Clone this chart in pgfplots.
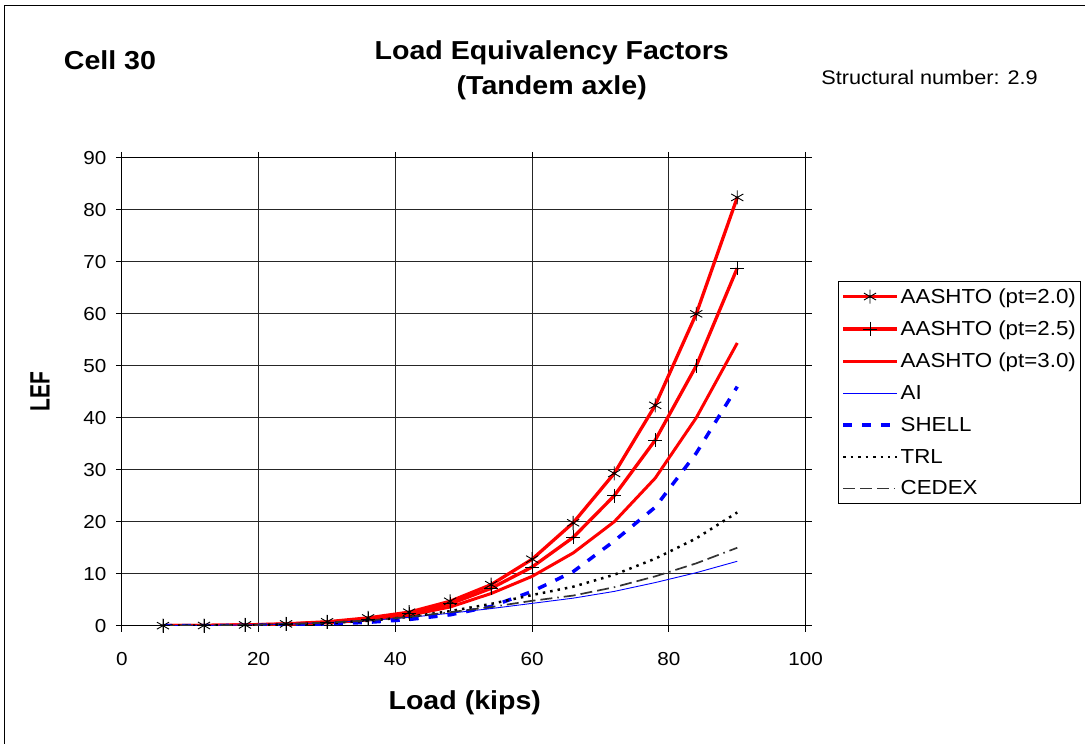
\documentclass[border=0pt]{standalone}
\usepackage{pgfplots}
\usepackage{pgfplotstable}
\pgfplotsset{compat=1.18}
\usepackage{fontspec}
\setmainfont{Liberation Sans}[FakeStretch=1.1]
\newfontfamily\plainfont{Liberation Sans}

\pgfplotstableread{
x    a20   a25   a30   ai    shell  trl   cedex
6    0.01  0.01  0.01  0.01  0.003  0.005 0.01
12   0.04  0.04  0.03  0.05  0.02   0.03  0.05
18   0.15  0.14  0.10  0.15  0.06   0.10  0.15
24   0.35  0.30  0.25  0.30  0.15   0.25  0.30
30   0.75  0.65  0.55  0.60  0.33   0.50  0.60
36   1.5   1.3   1.1   1.0   0.65   0.95  1.0
42   2.6   2.3   2.0   1.6   1.2    1.7   1.7
48   4.7   4.2   3.6   2.4   2.1    2.8   2.6
54   7.9   7.2   6.2   3.3   3.7    4.2   3.6
60   12.8  11.3  9.5   4.3   6.6    5.9   4.8
66   19.8  17.0  14.0  5.3   10.4   7.5   5.8
72   29.3  25.0  20.0  6.6   16.3   9.8   7.4
78   42.4  35.7  28.4  8.3   22.8   12.9  9.5
84   60.0  50.0  40.0  10.2  33.2   16.8  12.0
90   82.4  68.8  54.4  12.4  46.0   21.8  15.0
}\lef

\begin{document}
\begin{tikzpicture}[x=1pt,y=1pt]
\path (0,0) rectangle (1085,744);
\draw[line width=1pt] (5,0) -- (5,738) -- (1085,738);
\begin{axis}[
  at={(122pt,118pt)}, anchor=south west,
  width=684pt, height=468pt, scale only axis,
  xmin=0, xmax=100, ymin=0, ymax=90,
  xtick={0,20,...,100}, ytick={0,10,...,90},
  grid=major, major grid style={black!85, line width=1pt},
  axis line style={black, line width=1pt},
  tick style={black, line width=0.9pt},
  tick align=outside, major tick length=6pt,
  tick label style={font=\fontsize{18.8}{22}\selectfont},
  /pgf/number format/assume math mode=true,
  xticklabel style={yshift=-17pt},
  yticklabel style={xshift=-6pt},
  legend style={at={(axis description cs:1.047,0.737)}, anchor=north west,
    draw=black, line width=1pt, font=\fontsize{20.3}{23}\selectfont,
    row sep=12.2pt, inner xsep=3pt, inner ysep=5pt, cells={anchor=west}},
  legend image code/.code={\draw[mark repeat=2,mark phase=2,#1] plot coordinates {(0pt,0pt) (27pt,0pt) (54pt,0pt)};},
]
\addplot[red, line width=3.3pt, mark=asterisk, mark size=7pt, mark options={black, line width=0.9pt, solid}] table[x=x,y=a20] {\lef};
\addlegendentry{AASHTO (pt=2.0)}
\addplot[red, line width=3.3pt, mark=+, mark size=7pt, mark options={black, line width=0.9pt, solid}] table[x=x,y=a25] {\lef};
\addlegendentry{AASHTO (pt=2.5)}
\addplot[red, line width=3pt, no marks] table[x=x,y=a30] {\lef};
\addlegendentry{AASHTO (pt=3.0)}
\addplot[blue, line width=0.9pt, no marks] table[x=x,y=ai] {\lef};
\addlegendentry{AI}
\addplot[blue, line width=3.5pt, dash pattern=on 9pt off 10pt, no marks] table[x=x,y=shell] {\lef};
\addlegendentry{SHELL}
\addplot[black, line width=2.5pt, dash pattern=on 2.5pt off 5pt, no marks] table[x=x,y=trl] {\lef};
\addlegendentry{TRL}
\addplot[black!80, line width=1.7pt, dash pattern=on 12pt off 5pt on 12pt off 5pt on 12pt off 5pt on 1.5pt off 5pt, no marks] table[x=x,y=cedex] {\lef};
\addlegendentry{CEDEX}
\end{axis}
\node[font=\fontsize{26}{30}\selectfont\bfseries] at (110,684) {Cell 30};
\node[font=\fontsize{26}{30}\selectfont\bfseries] at (552,691) {Load Equivalency Factors};
\node[font=\fontsize{26}{30}\selectfont\bfseries] at (552,656) {(Tandem axle)};
\node[font=\fontsize{19.7}{23}\selectfont] at (930,666) {Structural number: 2.9};
\node[font=\plainfont\fontsize{28}{30}\selectfont\bfseries, rotate=90, xscale=0.75] at (40,352) {LEF};
\node[font=\fontsize{26}{30}\selectfont\bfseries] at (465,41) {Load (kips)};
\end{tikzpicture}
\end{document}
